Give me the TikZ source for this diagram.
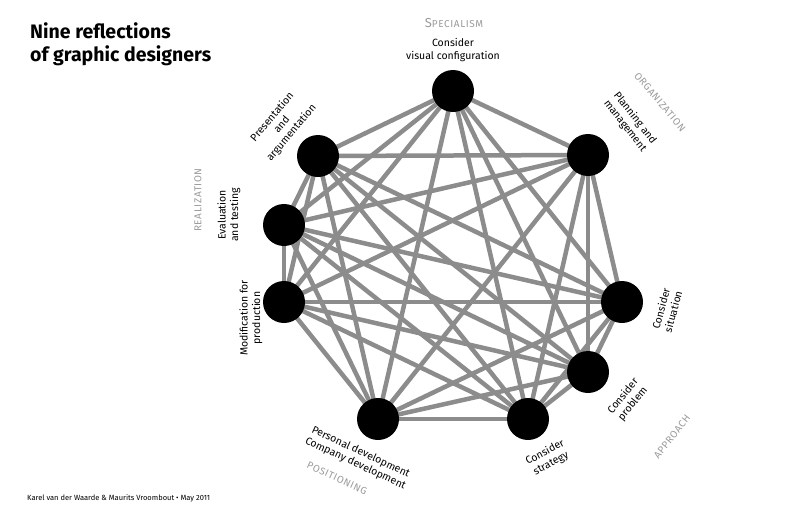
\documentclass[tikz,border=0pt]{standalone}
\usepackage{fontspec}
\setmainfont{Fira Sans}
\newfontfamily\capsfont[LetterSpace=6]{Fira Sans}
\usepackage{tikz}
\usetikzlibrary{backgrounds}

\definecolor{linkgray}{HTML}{8C8C8C}
\definecolor{aspectgray}{HTML}{9A9A9A}

\tikzset{
  refl/.style={circle,fill=black,minimum size=42pt,inner sep=0pt},
  link/.style={draw=linkgray,line width=4.5pt},
  lab/.style={align=center,font=\fontsize{10.5}{12.5}\selectfont,inner sep=0pt},
  aspect/.style={text=aspectgray,inner sep=0pt,font=\capsfont\fontsize{10}{12}\selectfont}
}

\begin{document}
\begin{tikzpicture}[x=1pt,y=-1pt]
\useasboundingbox (0,0) rectangle (800,514);
% Reflections
\foreach \n/\x/\y in {1/453/91, 2/588/155, 3/622/302, 4/588/372, 5/528/419,
                      6/378/419, 7/284/302, 8/284/225, 9/318/156} {
    \node[refl] (r\n) at (\x,\y) {};
}
% Connections
\begin{scope}[on background layer]
\foreach \i in {1,...,8} {
    \pgfmathtruncatemacro{\k}{\i+1}
    \foreach \j in {\k,...,9} {
        \draw[link] (r\i.center) -- (r\j.center);
    }
}
\end{scope}
% Labels
\node[lab] (l1) at (453,50) {Consider\\visual configuration};
\node[lab,rotate=-52] (l2) at (630,122) {Planning and\\management};
\node[lab,rotate=75] (l3) at (667,310) {Consider\\situation};
\node[lab,rotate=51] (l4) at (628,400) {Consider\\problem};
\node[lab,rotate=28] (l5) at (548,458) {Consider\\strategy};
\node[lab,rotate=-25] (l6) at (358,458) {Personal development\\Company development};
\node[lab,rotate=90] (l7) at (251,318) {Modification for\\production};
\node[lab,rotate=90] (l8) at (229,215) {Evaluation\\and testing};
\node[lab,rotate=50] (l9) at (282,125) {Presentation\\and\\argumentation};
% Aspects
\node[aspect] (specialism) at (454,23) {{\fontsize{13}{14}\selectfont S}PECIALISM};
\node[aspect,rotate=-50] (organization) at (660,102) {ORGANIZATION};
\node[aspect,rotate=52] (approach) at (672,437) {APPROACH};
\node[aspect,rotate=-25] (positioning) at (337,478) {POSITIONING};
\node[aspect,rotate=90] (realization) at (198,200) {REALIZATION};
% Title and credits
\node[anchor=base west,align=left,inner sep=0pt,font=\bfseries\fontsize{19.5}{23}\selectfont] (title) at (30,61)
    {Nine reflections\\of graphic designers};
\node[anchor=base west,inner sep=0pt,font=\fontsize{7.5}{9}\selectfont] (credits) at (27,500)
    {Karel van der Waarde \& Maurits Vroombout \textbullet\ May 2011};
\end{tikzpicture}
\end{document}
